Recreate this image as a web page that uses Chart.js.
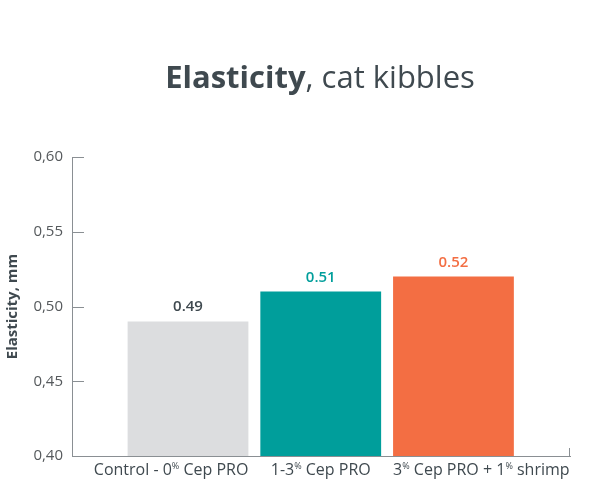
<!DOCTYPE html>
<html>
<head>
<meta charset="utf-8">
<script src="https://cdn.jsdelivr.net/npm/chart.js@4"></script>
<style>
  html, body { margin: 0; padding: 0; background: #fff; }
  #wrap { width: 600px; height: 499px; }
</style>
</head>
<body>
<div id="wrap"><canvas id="elasticityChart"></canvas></div>
<script>
// chart data
const categories = ['Control - 0% Cep PRO', '1-3% Cep PRO', '3% Cep PRO + 1% shrimp'];
const elasticity = [0.49, 0.51, 0.52];
const yTicks = [0.40, 0.45, 0.50, 0.55, 0.60];

// styles
const barColors = ['#dcdddf', '#009e9b', '#f36e43'];
const valueColors = ['#3f494f', '#009e9b', '#f36e43'];
const labelAlign = ['right', 'center', 'left'];  // outer labels hug the bar edges
const FONT = '"Open Sans", "Noto Sans", sans-serif';
const TEXT = '#3f494f';
const AXIS = '#8a8f93';

// draws a label where every "%" is a small superscript
function drawSupLabel(ctx, text, anchorX, align, y, size) {
    const parts = text.split('%');
    const big = 'normal ' + size + 'px ' + FONT;
    const small = 'normal ' + Math.round(size * 0.55) + 'px ' + FONT;
    let total = 0;
    parts.forEach((p, i) => {
        ctx.font = big; total += ctx.measureText(p).width;
        if (i < parts.length - 1) { ctx.font = small; total += ctx.measureText('%').width; }
    });
    let x = anchorX;
    if (align === 'center') x -= total / 2;
    if (align === 'right') x -= total;
    ctx.textAlign = 'left';
    parts.forEach((p, i) => {
        ctx.font = big;
        ctx.fillText(p, x, y);
        x += ctx.measureText(p).width;
        if (i < parts.length - 1) {
            ctx.font = small;
            ctx.fillText('%', x, y - size * 0.38);
            x += ctx.measureText('%').width;
        }
    });
}

const decorations = {
    id: 'decorations',
    afterDraw(chart) {
        const ctx = chart.ctx;
        const area = chart.chartArea;
        const ys = chart.scales.y;
        const meta = chart.getDatasetMeta(0);
        ctx.save();

        // title: bold + normal
        ctx.fillStyle = TEXT;
        ctx.textBaseline = 'alphabetic';
        const t1 = 'Elasticity', t2 = ', cat kibbles';
        ctx.font = 'bold 31px ' + FONT;
        const w1 = ctx.measureText(t1).width;
        ctx.font = 'normal 31px ' + FONT;
        const w2 = ctx.measureText(t2).width;
        const tx = 320 - (w1 + w2) / 2;
        ctx.textAlign = 'left';
        ctx.font = 'bold 31px ' + FONT;
        ctx.fillText(t1, tx, 88);
        ctx.font = 'normal 31px ' + FONT;
        ctx.fillText(t2, tx + w1, 88);

        // inward y ticks
        ctx.strokeStyle = AXIS;
        ctx.lineWidth = 1;
        yTicks.forEach(v => {
            const py = Math.round(ys.getPixelForValue(v)) + 0.5;
            ctx.beginPath();
            ctx.moveTo(area.left, py);
            ctx.lineTo(area.left + 12, py);
            ctx.stroke();
        });
        // end tick on x axis
        ctx.beginPath();
        ctx.moveTo(Math.round(area.right) - 0.5, area.bottom);
        ctx.lineTo(Math.round(area.right) - 0.5, area.bottom - 8);
        ctx.stroke();

        // category labels
        ctx.fillStyle = TEXT;
        meta.data.forEach((bar, i) => {
            const half = bar.width / 2;
            const ax = labelAlign[i] === 'right' ? bar.x + half
                     : labelAlign[i] === 'left' ? bar.x - half : bar.x;
            drawSupLabel(ctx, categories[i], ax, labelAlign[i], 475, 16);
        });

        // value labels
        ctx.textAlign = 'center';
        ctx.font = '600 15px ' + FONT;
        meta.data.forEach((bar, i) => {
            ctx.fillStyle = valueColors[i];
            ctx.fillText(elasticity[i].toFixed(2), bar.x, bar.y - 10);
        });
        ctx.restore();
    }
};

new Chart(document.getElementById('elasticityChart'), {
    type: 'bar',
    data: {
        datasets: [{
            label: 'Elasticity, mm',
            data: elasticity.map((v, i) => ({ x: i, y: v })),
            backgroundColor: barColors,
            borderWidth: 0,
            barPercentage: 0.91,
            categoryPercentage: 1
        }]
    },
    options: {
        responsive: true,
        maintainAspectRatio: false,
        animation: false,
        layout: { padding: { top: 157, right: 30, left: 0, bottom: 0 } },
        plugins: {
            legend: { display: false },
            tooltip: { enabled: false },
            title: { display: false }
        },
        scales: {
            x: {
                type: 'linear',
                offset: false,
                min: -0.874,
                max: 2.878,
                afterBuildTicks: (s) => { s.ticks = categories.map((c, i) => ({ value: i })); },
                afterFit: (s) => { s.height = 43; },
                grid: { display: false },
                border: { display: true, color: AXIS, width: 1 },
                ticks: { display: false }
            },
            y: {
                min: 0.4,
                max: 0.6,
                afterBuildTicks: (s) => { s.ticks = yTicks.map(v => ({ value: v })); },
                afterFit: (s) => { s.width = 72; },
                grid: { display: false, drawTicks: false },
                border: { display: true, color: AXIS, width: 1 },
                ticks: {
                    padding: 9,
                    color: '#55595c',
                    font: { family: FONT, size: 15 },
                    callback: (v) => v.toFixed(2).replace('.', ',')
                },
                title: {
                    display: true,
                    text: 'Elasticity, mm',
                    color: TEXT,
                    font: { family: FONT, size: 15, weight: 'bold' },
                    padding: { top: 4, bottom: 0 }
                }
            }
        }
    },
    plugins: [decorations]
});
</script>
</body>
</html>
